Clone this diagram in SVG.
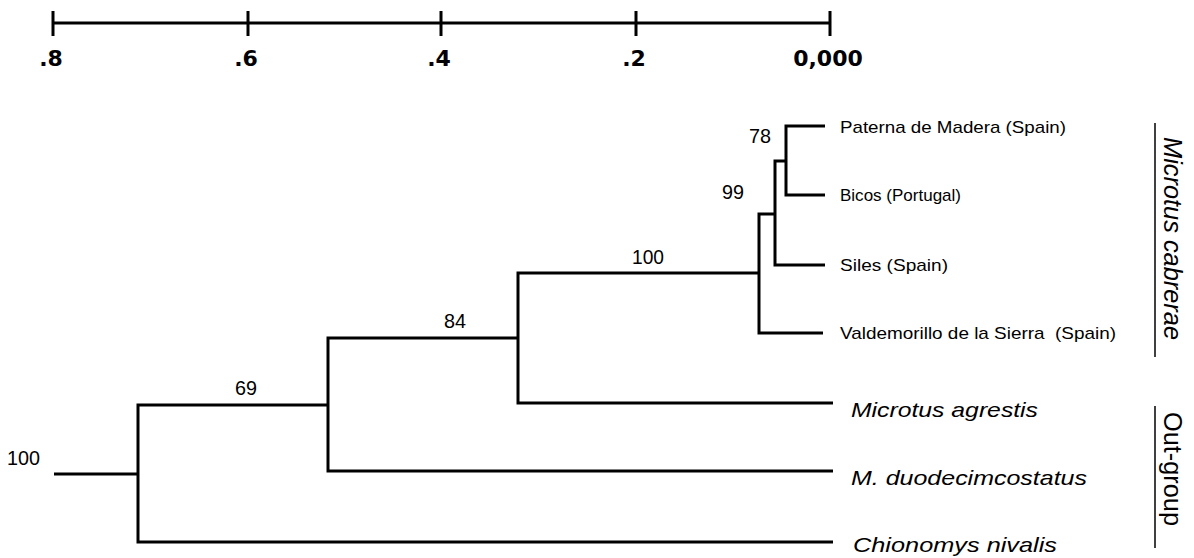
<svg xmlns="http://www.w3.org/2000/svg" width="1194" height="558" viewBox="0 0 1194 558">
<style>
.br{fill:none;stroke:#000;stroke-width:3;stroke-linejoin:miter;stroke-linecap:butt}
.sc{fill:none;stroke:#000;stroke-width:3}
.th{fill:none;stroke:#000;stroke-width:1.5}
.ax{font-family:"DejaVu Sans",sans-serif;font-weight:bold;font-size:22px;fill:#000;text-anchor:middle}
.bs{font-family:"Liberation Sans",Arial,sans-serif;font-size:21px;fill:#000}
.lf{font-family:"Liberation Sans",Arial,sans-serif;font-size:17px;fill:#000}
.sp{font-family:"Liberation Sans",Arial,sans-serif;font-size:21px;font-style:italic;fill:#000}
.gr{font-family:"Liberation Sans",Arial,sans-serif;font-size:25px;fill:#000}
</style>
<g id="scale-bar">
<path class="sc" d="M53,23 H830 M53,11 V36 M248,11 V36 M441,11 V36 M636,11 V36 M830,11 V36"/>
<text class="ax" x="51" y="66">.8</text>
<text class="ax" x="246" y="66">.6</text>
<text class="ax" x="439" y="66">.4</text>
<text class="ax" x="634" y="66">.2</text>
<text class="ax" x="828" y="66">0,000</text>
</g>
<g id="connectors">
<path class="br" d="M825,126 H786 V195 H825"/>
<path class="br" d="M786,161 H775 V265 H825"/>
<path class="br" d="M775,214 H759 V333 H823"/>
<path class="br" d="M759,273 H518 V403 H833"/>
<path class="br" d="M518,338 H328 V471 H833"/>
<path class="br" d="M328,405 H138 V542 H833"/>
<path class="br" d="M138,474 H54"/>
</g>
<g id="bootstrap">
<text class="bs" x="7" y="465" textLength="33" lengthAdjust="spacingAndGlyphs">100</text>
<text class="bs" x="235" y="395" textLength="22" lengthAdjust="spacingAndGlyphs">69</text>
<text class="bs" x="444" y="328" textLength="22" lengthAdjust="spacingAndGlyphs">84</text>
<text class="bs" x="632" y="264" textLength="32" lengthAdjust="spacingAndGlyphs">100</text>
<text class="bs" x="722" y="199" textLength="22" lengthAdjust="spacingAndGlyphs">99</text>
<text class="bs" x="749" y="143" textLength="22" lengthAdjust="spacingAndGlyphs">78</text>
</g>
<g id="leaf-paterna"><text class="lf" x="840" y="133" textLength="226" lengthAdjust="spacingAndGlyphs">Paterna de Madera (Spain)</text></g>
<g id="leaf-bicos"><text class="lf" x="840" y="201" textLength="121" lengthAdjust="spacingAndGlyphs">Bicos (Portugal)</text></g>
<g id="leaf-siles"><text class="lf" x="840" y="271" textLength="108" lengthAdjust="spacingAndGlyphs">Siles (Spain)</text></g>
<g id="leaf-valdemorillo"><text class="lf" x="840" y="339" textLength="276" lengthAdjust="spacingAndGlyphs" xml:space="preserve">Valdemorillo de la Sierra  (Spain)</text></g>
<g id="leaf-agrestis"><text class="sp" x="851" y="417" textLength="187" lengthAdjust="spacingAndGlyphs">Microtus agrestis</text></g>
<g id="leaf-duodecimcostatus"><text class="sp" x="851" y="485" textLength="236" lengthAdjust="spacingAndGlyphs">M. duodecimcostatus</text></g>
<g id="leaf-chionomys"><text class="sp" x="853" y="552" textLength="204" lengthAdjust="spacingAndGlyphs">Chionomys nivalis</text></g>
<g id="clade-cabrerae">
<path class="th" d="M1155,123 V357"/>
<text class="gr" font-style="italic" transform="translate(1164,137) rotate(90)" textLength="203" lengthAdjust="spacingAndGlyphs">Microtus cabrerae</text>
</g>
<g id="clade-outgroup">
<path class="th" d="M1155,406 V548"/>
<text class="gr" transform="translate(1164,412) rotate(90)" textLength="114" lengthAdjust="spacingAndGlyphs">Out-group</text>
</g>
</svg>
